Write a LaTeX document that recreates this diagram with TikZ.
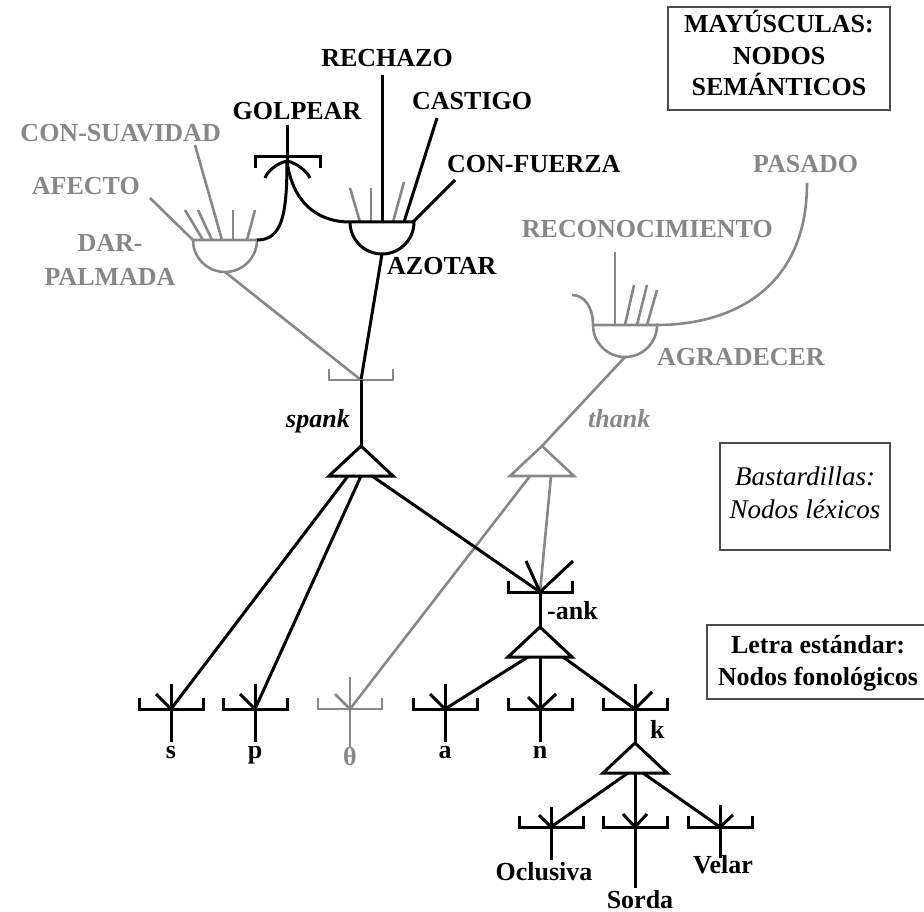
\documentclass[tikz,border=0pt]{standalone}
\usepackage{fontspec}
\setmainfont{Liberation Serif}
\definecolor{gry}{RGB}{135,135,135}
\tikzset{
 blk/.style={line width=3pt, draw=black},
 gln/.style={line width=2.6pt, draw=gry},
 lab/.style={font=\fontsize{26}{30}\selectfont\bfseries, inner sep=0pt},
 glab/.style={lab, text=gry},
 ilab/.style={font=\fontsize{26}{30}\selectfont\bfseries\itshape, inner sep=0pt},
 leglab/.style={font=\fontsize{26}{30}\selectfont\bfseries, inner sep=0pt},
 legital/.style={font=\fontsize{27}{30}\selectfont\itshape, inner sep=0pt},
 legend/.style={draw=black!70, line width=1.4pt},
 ubr/.pic={\draw (-32,-11) -- (-32,0) -- (32,0) -- (32,-11);},
 dbr/.pic={\draw (-32,11) -- (-32,0) -- (33,0) -- (33,11);},
 tri/.pic={\draw (0,0) -- (32,30) -- (-32,30) -- cycle;},
 hdisk/.pic={\draw (-32,0) -- (32,0) arc[start angle=0,end angle=180,radius=32];},
}
\begin{document}
\begin{tikzpicture}[x=1pt,y=-1pt, line join=miter]
\useasboundingbox (0,0) rectangle (924,912);
% ---------- coordinates ----------
\coordinate (gol) at (287,161);
\coordinate (golbar) at (287,157);
\coordinate (golE) at (287,125);
\coordinate (dar) at (225,240);
\coordinate (darL) at (193,240);
\coordinate (darR) at (257,240);
\coordinate (darC) at (222,240);
\coordinate (darB) at (225,272);
\coordinate (afE) at (150,198);
\coordinate (csE) at (195,145);
\coordinate (azo) at (382,222);
\coordinate (azoL) at (350,222);
\coordinate (azoR) at (413,222);
\coordinate (azoC) at (404,222);
\coordinate (azoB) at (382,254);
\coordinate (recE) at (382,75);
\coordinate (casE) at (437,118);
\coordinate (cfE) at (455,180);
\coordinate (agr) at (625,325);
\coordinate (agrL) at (593,325);
\coordinate (agrR) at (657,325);
\coordinate (agrC) at (615,325);
\coordinate (agrB) at (625,357);
\coordinate (rcE) at (615,252);
\coordinate (pasE) at (807,183);
\coordinate (hookE) at (572,295);
\coordinate (spb) at (361,380);
\coordinate (spk) at (361,446);
\coordinate (thk) at (542,446);
\coordinate (ank) at (540,592);
\coordinate (anka) at (540,627);
\coordinate (s) at (171,709);
\coordinate (p) at (255,709);
\coordinate (th) at (350,709);
\coordinate (a) at (445,709);
\coordinate (n) at (540,709);
\coordinate (k) at (635,709);
\coordinate (ka) at (635,743);
\coordinate (ocl) at (551,827);
\coordinate (sor) at (635,827);
\coordinate (vel) at (720,827);
\coordinate (sB) at (171,742);
\coordinate (pB) at (255,742);
\coordinate (thB) at (350,747);
\coordinate (aB) at (445,742);
\coordinate (nB) at (540,742);
\coordinate (oclB) at (551,860);
\coordinate (sorB) at (635,888);
\coordinate (velB) at (720,858);

% ---------- legend boxes ----------
\draw[legend] (668,7) rectangle (890,110);
\node[leglab, anchor=base] (lg1) at (779,33) {MAYÚSCULAS:};
\node[leglab, anchor=base] (lg2) at (779,65) {NODOS};
\node[leglab, anchor=base] (lg3) at (779,96) {SEMÁNTICOS};
\draw[legend] (720,443) rectangle (890,550);
\node[legital, anchor=base] (lg4) at (805,485) {Bastardillas:};
\node[legital, anchor=base] (lg5) at (805,518) {Nodos léxicos};
\draw[legend] (930,625) -- (707,625) -- (707,699) -- (930,699);
\node[leglab, anchor=base] (lg6) at (818,653) {Letra estándar:};
\node[leglab, anchor=base] (lg7) at (818,685) {Nodos fonológicos};

% ---------- semantic labels ----------
\node[lab, anchor=base] (tGOL) at (297,120) {GOLPEAR};
\node[lab, anchor=base] (tREC) at (387,67) {RECHAZO};
\node[lab, anchor=base west] (tCAS) at (412,110) {CASTIGO};
\node[lab, anchor=base west] (tCF) at (447,173) {CON-FUERZA};
\node[glab, anchor=base east] (tCS) at (221,142) {CON-SUAVIDAD};
\node[glab, anchor=base east] (tAF) at (140,195) {AFECTO};
\node[glab, anchor=base] (tDAR) at (110,252) {DAR-};
\node[glab, anchor=base] (tPAL) at (110,285) {PALMADA};
\node[lab, anchor=base west] (tAZO) at (387,275) {AZOTAR};
\node[glab, anchor=base west] (tPAS) at (753,173) {PASADO};
\node[glab, anchor=base east] (tRCN) at (773,238) {RECONOCIMIENTO};
\node[glab, anchor=base west] (tAGR) at (657,365) {AGRADECER};

% ---------- DAR-PALMADA ----------
\pic[gln] at (dar) {hdisk};
\draw[gln] (afE) -- (darL);
\draw[gln] (csE) -- (darC);
\draw[gln] ([xshift=-22pt]dar) -- ++(-18,-30);
\draw[gln] ([xshift=-13pt]dar) -- ++(-14,-30);
\draw[gln] ([xshift=8pt]dar) -- ++(0,-30);
\draw[gln] ([xshift=22pt]dar) -- ++(8,-30);

% ---------- AZOTAR ----------
\draw[gln] ([xshift=-22pt]azo) -- ++(-10,-34);
\draw[gln] ([xshift=-11pt]azo) -- ++(0,-34);
\draw[gln] ([xshift=11pt]azo) -- ++(11,-40);
\draw[blk] (recE) -- (azo);
\draw[blk] (casE) -- (azoC);
\draw[blk] (cfE) -- (azoR);
\pic[blk] at (azo) {hdisk};

% ---------- GOLPEAR ----------
\pic[blk] at (golbar) {dbr};
\draw[blk] (golE) -- (gol);
\draw[blk] (gol) .. controls (287,215) and (282,240) .. (darR);
\draw[blk] (gol) .. controls (292,200) and (315,222) .. (azoL);
\draw[blk] (gol) .. controls (278,163) and (268,170) .. (265,178);
\draw[blk] (gol) .. controls (296,163) and (306,170) .. (310,178);

% ---------- AGRADECER ----------
\pic[gln] at (agr) {hdisk};
\draw[gln] (rcE) -- (agrC);
\draw[gln] (agr) -- ++(9,-40);
\draw[gln] ([xshift=12pt]agr) -- ++(10,-40);
\draw[gln] ([xshift=22pt]agr) -- ++(10,-35);
\draw[gln] (pasE) .. controls (807,290) and (730,325) .. (agrR);
\draw[gln] (agrL) .. controls (593,308) and (585,295) .. (hookE);

% ---------- lexical level ----------
\draw[gln] (darB) -- (spb);
\draw[blk] (azoB) -- (spb);
\pic[gln] at (spb) {ubr};
\draw[blk] (spb) -- (spk);
\pic[blk] at (spk) {tri};
\node[ilab, anchor=base east] (tsp) at (350,427) {spank};
\draw[gln] (agrB) -- (thk);
\pic[gln] at (thk) {tri};
\node[ilab, text=gry, anchor=base west] (tth) at (588,427) {thank};

\draw[gln] ([shift={(-12,30)}]thk) -- (th);
\draw[blk] ([shift={(-13,30)}]spk) -- (s);
\draw[blk] ([shift={(0,30)}]spk) -- (p);
\draw[blk] ([shift={(11,30)}]spk) -- (ank);
\draw[gln] ([shift={(9,30)}]thk) -- (ank);

% ---------- -ank ----------
\pic[blk] at (ank) {ubr};
\draw[blk] (ank) -- ++(-14,-31);
\draw[blk] (ank) -- ++(33,-31);
\draw[blk] (ank) -- (anka);
\node[lab, anchor=base west] (tank) at (547,619) {-ank};
\pic[blk] at (anka) {tri};
\draw[blk] ([shift={(-12,30)}]anka) -- (a);
\draw[blk] ([shift={(0,30)}]anka) -- (n);
\draw[blk] ([shift={(23,30)}]anka) -- (k);

% ---------- phonological nodes ----------
\foreach \c in {s,p,a}{
  \pic[blk] at (\c) {ubr};
  \draw[blk] (\c) -- ++(0,-25);
  \draw[blk] (\c) -- ++(-15,-15);
}
\pic[gln] at (th) {ubr};
\draw[gln] (th) -- ++(0,-32);
\draw[gln] (th) -- ++(-15,-15);
\draw[gln] (th) -- (thB);
\draw[blk] (s) -- (sB);
\draw[blk] (p) -- (pB);
\draw[blk] (a) -- (aB);
\pic[blk] at (n) {ubr};
\draw[blk] (n) -- ++(-12,-12);
\draw[blk] (n) -- ++(16,-15);
\draw[blk] (n) -- (nB);
\pic[blk] at (k) {ubr};
\draw[blk] (k) -- ++(0,-25);
\draw[blk] (k) -- ++(17,-17);
\draw[blk] (k) -- (ka);
\node[lab, anchor=base west] (tk) at (650,738) {k};

\node[lab, anchor=base] (ts) at (171,758) {s};
\node[lab, anchor=base] (tp) at (255,758) {p};
\node[glab, anchor=base] (tth2) at (350,765) {θ};
\node[lab, anchor=base] (ta) at (445,758) {a};
\node[lab, anchor=base] (tn) at (540,758) {n};

% ---------- k features ----------
\pic[blk] at (ka) {tri};
\draw[blk] ([shift={(-7,30)}]ka) -- (ocl);
\draw[blk] ([shift={(0,30)}]ka) -- (sor);
\draw[blk] ([shift={(8,30)}]ka) -- (vel);
\pic[blk] at (ocl) {ubr};
\draw[blk] (ocl) -- ++(0,-20);
\draw[blk] (ocl) -- ++(-12,-12);
\draw[blk] (ocl) -- (oclB);
\pic[blk] at (sor) {ubr};
\draw[blk] (sor) -- ++(-12,-13);
\draw[blk] (sor) -- ++(12,-13);
\draw[blk] (sor) -- (sorB);
\pic[blk] at (vel) {ubr};
\draw[blk] (vel) -- ++(0,-22);
\draw[blk] (vel) -- ++(13,-12);
\draw[blk] (vel) -- (velB);
\node[lab, anchor=base] (tocl) at (544,880) {Oclusiva};
\node[lab, anchor=base] (tsor) at (640,908) {Sorda};
\node[lab, anchor=base] (tvel) at (723,873) {Velar};
\end{tikzpicture}
\end{document}
